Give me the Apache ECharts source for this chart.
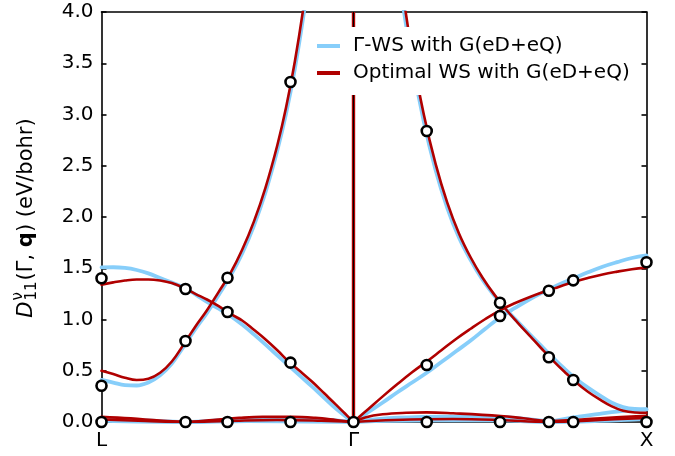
<!DOCTYPE html>
<html>
<head>
<meta charset="utf-8">
<script src="https://cdn.jsdelivr.net/npm/echarts@6/dist/echarts.min.js"></script>
<style>
  html, body { margin: 0; padding: 0; background: #fff; }
  #chart { width: 675px; height: 456px; }
</style>
</head>
<body>
<div id="chart"></div>
<script>
// Path coordinate: L = 0, Γ = 0.86, X = 1.86
const xTickPos = [0, 0.86, 1.86];
const xTickLabels = ['L', 'Γ', 'X'];
const GAMMA = 0.86;

const nameGWS = 'Γ-WS with G(eD+eQ)';
const nameOpt = 'Optimal WS with G(eD+eQ)';

// ---- L -> Γ branches ----
const blueUpperL = [[0,1.509],[0.04,1.51],[0.08,1.503],[0.12,1.483],[0.16,1.45],[0.20,1.405],[0.24,1.36],[0.28,1.312],[0.32,1.245],[0.36,1.172],[0.40,1.105],[0.44,1.035],[0.48,0.95],[0.52,0.855],[0.56,0.755],[0.60,0.65],[0.64,0.548],[0.68,0.445],[0.72,0.342],[0.76,0.235],[0.80,0.13],[0.83,0.062],[0.86,0]];
const redUpperL = [[0,1.34],[0.04,1.362],[0.08,1.38],[0.12,1.39],[0.16,1.39],[0.20,1.38],[0.24,1.355],[0.28,1.31],[0.32,1.25],[0.36,1.195],[0.40,1.13],[0.44,1.055],[0.48,0.99],[0.52,0.90],[0.56,0.805],[0.60,0.70],[0.64,0.587],[0.68,0.49],[0.72,0.39],[0.76,0.28],[0.80,0.17],[0.83,0.085],[0.86,0]];
const blueLowerL = [[0,0.41],[0.04,0.385],[0.08,0.36],[0.12,0.356],[0.16,0.385],[0.20,0.455],[0.24,0.57],[0.28,0.735],[0.32,0.905],[0.36,1.065],[0.40,1.24],[0.44,1.425],[0.48,1.645],[0.52,1.915],[0.56,2.245],[0.60,2.65],[0.63,3.01],[0.66,3.45],[0.69,3.98],[0.72,4.6],[0.75,5.35],[0.78,6.25],[0.81,7.4]];
const redLowerL = [[0,0.50],[0.04,0.468],[0.08,0.432],[0.12,0.41],[0.16,0.422],[0.20,0.48],[0.24,0.59],[0.28,0.755],[0.32,0.93],[0.36,1.09],[0.40,1.27],[0.44,1.452],[0.48,1.68],[0.52,1.955],[0.56,2.29],[0.60,2.70],[0.63,3.07],[0.66,3.52],[0.69,4.06],[0.72,4.7],[0.75,5.45],[0.78,6.35],[0.81,7.5]];
const blueZeroAL = [[0,0.03],[0.15,0.015],[0.287,0.002],[0.43,0.02],[0.6,0.035],[0.75,0.025],[0.86,0]];
const blueZeroBL = [[0,0.01],[0.287,0],[0.5,0.01],[0.86,0]];
const redZeroAL = [[0,0.05],[0.1,0.035],[0.2,0.015],[0.287,0.003],[0.38,0.02],[0.47,0.04],[0.55,0.05],[0.65,0.05],[0.73,0.04],[0.8,0.02],[0.86,0]];
const redZeroBL = [[0,0.025],[0.15,0.01],[0.287,0],[0.43,0.01],[0.6,0.02],[0.75,0.012],[0.86,0]];

// ---- Γ -> X branches ----
const blueRiseR = [[0.86,0],[0.91,0.095],[0.96,0.19],[1.01,0.29],[1.06,0.385],[1.11,0.48],[1.16,0.585],[1.21,0.69],[1.26,0.795],[1.31,0.91],[1.36,1.02],[1.41,1.11],[1.46,1.195],[1.51,1.27],[1.56,1.34],[1.61,1.40],[1.66,1.46],[1.71,1.515],[1.76,1.56],[1.81,1.60],[1.86,1.625]];
const redRiseR = [[0.86,0],[0.91,0.125],[0.96,0.25],[1.01,0.37],[1.06,0.485],[1.11,0.59],[1.16,0.70],[1.21,0.81],[1.26,0.91],[1.31,1.005],[1.36,1.09],[1.41,1.158],[1.46,1.217],[1.51,1.27],[1.56,1.318],[1.61,1.365],[1.66,1.405],[1.71,1.44],[1.76,1.467],[1.81,1.49],[1.86,1.506]];
const blueDivR = [[0.90,10],[0.94,6.9],[0.98,5.2],[1.02,4.25],[1.06,3.52],[1.10,2.93],[1.14,2.46],[1.18,2.09],[1.22,1.80],[1.26,1.58],[1.30,1.39],[1.34,1.235],[1.38,1.10],[1.42,0.98],[1.46,0.86],[1.50,0.745],[1.54,0.63],[1.58,0.52],[1.62,0.42],[1.66,0.335],[1.70,0.26],[1.74,0.19],[1.78,0.145],[1.82,0.128],[1.86,0.126]];
const redDivR = [[0.90,10.5],[0.94,7.1],[0.98,5.35],[1.02,4.37],[1.06,3.60],[1.10,3.00],[1.14,2.52],[1.18,2.14],[1.22,1.84],[1.26,1.605],[1.30,1.41],[1.34,1.245],[1.38,1.10],[1.42,0.97],[1.46,0.845],[1.50,0.722],[1.54,0.602],[1.58,0.49],[1.62,0.385],[1.66,0.295],[1.70,0.22],[1.74,0.155],[1.78,0.11],[1.82,0.093],[1.86,0.09]];
const blueZeroAR = [[0.86,0],[0.95,0.03],[1.11,0.05],[1.25,0.055],[1.362,0.05],[1.45,0.03],[1.525,0.01],[1.61,0.045],[1.7,0.08],[1.79,0.11],[1.86,0.12]];
const blueZeroBR = [[0.86,0],[1.11,0.015],[1.362,0.015],[1.525,0],[1.7,0.01],[1.86,0.03]];
const redZeroAR = [[0.86,0],[0.9,0.045],[0.96,0.075],[1.04,0.09],[1.11,0.094],[1.2,0.085],[1.362,0.059],[1.44,0.036],[1.525,0.01],[1.61,0.02],[1.73,0.042],[1.86,0.06]];
const redZeroBR = [[0.86,0],[1.0,0.02],[1.2,0.03],[1.362,0.02],[1.525,0],[1.7,0.02],[1.86,0.04]];

// Reference points computed directly at the sampled q
const refPoints = [
  [0,0],[0,0.354],[0,1.402],
  [0.2867,0],[0.2867,0.79],[0.2867,1.298],
  [0.43,0],[0.43,1.073],[0.43,1.408],
  [0.645,0],[0.645,0.579],[0.645,3.317],
  [0.86,0],
  [1.11,0],[1.11,0.556],[1.11,2.839],
  [1.36,0],[1.36,1.034],[1.36,1.164],
  [1.5267,0],[1.5267,0.631],[1.5267,1.281],
  [1.61,0],[1.61,0.41],[1.61,1.382],
  [1.86,0],[1.86,1.558]
];

const BLUE = '#87cefa';
const RED = '#b00000';
const FONT = 'DejaVu Sans';

const blueSets = [blueUpperL, blueLowerL, blueZeroAL, blueZeroBL, blueRiseR, blueDivR, blueZeroAR, blueZeroBR];
const redSets = [redUpperL, redLowerL, redZeroAL, redZeroBL, redRiseR, redDivR, redZeroAR, redZeroBR];

function curve(name, data, color, width, z) {
  return {
    type: 'line', name: name, data: data, z: z,
    showSymbol: false, symbol: 'none', smooth: 0.4,
    lineStyle: { color: color, width: width, cap: 'round', join: 'round' },
    itemStyle: { color: color },
    silent: true, animation: false
  };
}

const series = [];
blueSets.forEach(d => series.push(curve(nameGWS, d, BLUE, 3.8, 2)));
redSets.forEach(d => series.push(curve(nameOpt, d, RED, 2.6, 3)));
// divergence at Γ
series.push({ type: 'line', data: [[GAMMA, 0], [GAMMA, 4]], z: 4, symbol: 'none', silent: true,
  lineStyle: { color: RED, width: 3.4 } });
series.push({ type: 'line', data: [[GAMMA, 0], [GAMMA, 4]], z: 4, symbol: 'none', silent: true,
  lineStyle: { color: '#000', width: 1 } });
series.push({ type: 'scatter', data: refPoints, z: 6, clip: false, symbol: 'circle', symbolSize: 10,
  itemStyle: { color: '#fff', borderColor: '#000', borderWidth: 2.6, opacity: 1 }, silent: true });

// Axis title: D^ν_11(Γ, q) (eV/bohr), built from pieces
const mctx = document.createElement('canvas').getContext('2d');
function tw(t, f) { mctx.font = f; return mctx.measureText(t).width; }
const fMain = '21px "' + FONT + '"';
const fIt = 'italic 21px "' + FONT + '"';
const fBold = 'bold 21px "' + FONT + '"';
const fSmall = '15px "' + FONT + '"';
let cx = 0;
const parts = [];
parts.push({ t: 'D', f: fIt, x: cx, y: 0 }); cx += tw('D', fIt) + 1;
parts.push({ t: 'ν', f: fSmall, x: cx, y: -9 });
parts.push({ t: '11', f: fSmall, x: cx, y: 5 });
cx += Math.max(tw('ν', fSmall), tw('11', fSmall)) + 1;
parts.push({ t: '(Γ, ', f: fMain, x: cx, y: 0 }); cx += tw('(Γ, ', fMain);
parts.push({ t: 'q', f: fBold, x: cx, y: 0 }); cx += tw('q', fBold);
parts.push({ t: ') (eV/bohr)', f: fMain, x: cx, y: 0 }); cx += tw(') (eV/bohr)', fMain);
const titleLen = cx;

const chart = echarts.init(document.getElementById('chart'), null, { renderer: 'canvas' });
chart.setOption({
  animation: false,
  backgroundColor: '#fff',
  grid: { left: 101.5, right: 28.5, top: 12, bottom: 34, containLabel: false },
  legend: {
    orient: 'vertical', left: 309, top: 27, padding: [9, 10, 12, 8], itemGap: 7,
    itemWidth: 23, itemHeight: 4, icon: 'rect', backgroundColor: '#fff', z: 20,
    textStyle: { fontFamily: FONT, fontSize: 20, color: '#000', padding: [0, 0, 0, 8] },
    data: [
      { name: nameGWS, itemStyle: { color: BLUE } },
      { name: nameOpt, itemStyle: { color: RED } }
    ],
    selectedMode: false
  },
  xAxis: [
    {
      type: 'value', min: 0, max: 1.86, position: 'bottom',
      axisLine: { show: true, onZero: false, lineStyle: { color: '#000', width: 1.6 } },
      axisTick: { show: true, inside: true, length: 5, customValues: xTickPos, lineStyle: { color: '#000', width: 1.6 } },
      axisLabel: {
        customValues: xTickPos, fontFamily: FONT, fontSize: 20, color: '#000', margin: 9,
        formatter: function (v) {
          let best = 0;
          xTickPos.forEach((p, i) => { if (Math.abs(p - v) < Math.abs(xTickPos[best] - v)) best = i; });
          return xTickLabels[best];
        }
      },
      splitLine: { show: false }
    },
    {
      type: 'value', min: 0, max: 1.86, position: 'top',
      axisLine: { show: true, onZero: false, lineStyle: { color: '#000', width: 1.6 } },
      axisTick: { show: false }, axisLabel: { show: false }, splitLine: { show: false }
    }
  ],
  yAxis: [
    {
      type: 'value', min: 0, max: 4, interval: 0.5, position: 'left',
      axisLine: { show: true, onZero: false, lineStyle: { color: '#000', width: 1.6 } },
      axisTick: { show: true, inside: true, length: 5, lineStyle: { color: '#000', width: 1.6 } },
      axisLabel: { fontFamily: FONT, fontSize: 20, color: '#000', margin: 8, formatter: v => v.toFixed(1) },
      splitLine: { show: false }
    },
    {
      type: 'value', min: 0, max: 4, interval: 0.5, position: 'right',
      axisLine: { show: true, onZero: false, lineStyle: { color: '#000', width: 1.6 } },
      axisTick: { show: true, inside: true, length: 5, lineStyle: { color: '#000', width: 1.6 } },
      axisLabel: { show: false }, splitLine: { show: false }
    }
  ],
  graphic: [{
    type: 'group', x: 27, y: 218 + titleLen / 2, rotation: Math.PI / 2, silent: true,
    children: parts.map(p => ({
      type: 'text', x: p.x, y: p.y,
      style: { text: p.t, font: p.f, fill: '#000', textAlign: 'left', textVerticalAlign: 'middle' }
    }))
  }],
  series: series
});
</script>
</body>
</html>
